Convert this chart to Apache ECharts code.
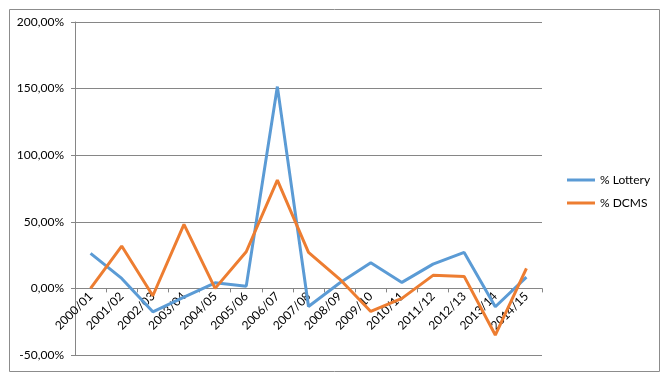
<!DOCTYPE html>
<html>
<head>
<meta charset="utf-8">
<script src="https://cdn.jsdelivr.net/npm/echarts@6/dist/echarts.min.js"></script>
<style>
html,body{margin:0;padding:0;background:#fff;}
#chart{width:664px;height:378px;}
</style>
</head>
<body>
<div id="chart"></div>
<script>
var categories = ['2000/01','2001/02','2002/03','2003/04','2004/05','2005/06','2006/07','2007/08','2008/09','2009/10','2010/11','2011/12','2012/13','2013/14','2014/15'];
var lottery = [26.3, 7.5, -17.6, -6.5, 4.2, 1.7, 151.5, -13.6, 4.0, 19.2, 4.5, 18.2, 27.0, -13.8, 8.5];
var dcms = [0.0, 31.8, -5.5, 48.0, 0.0, 27.5, 81.3, 27.0, 7.0, -17.3, -7.5, 9.8, 9.0, -35.0, 15.0];
var seriesNames = ['% Lottery', '% DCMS'];
var yMin = -50, yMax = 200, yStep = 50;

var W = 664, H = 378;
var gridTop = 22, gridBottom = 23;
var plotH = H - gridTop - gridBottom;
var zeroOffset = -plotH * (0 - yMin) / (yMax - yMin);

var chart = echarts.init(document.getElementById('chart'), null, {renderer: 'canvas'});
var font = 'Lato, "Open Sans", sans-serif';
chart.setOption({
  animation: false,
  backgroundColor: '#ffffff',
  graphic: [{
    type: 'rect', left: 7, top: 7, shape: {width: 650, height: 362},
    style: {fill: 'none', stroke: '#8c8c8c', lineWidth: 1}, silent: true
  }],
  grid: {left: 75, right: 122, top: gridTop, bottom: gridBottom, containLabel: false, outerBoundsMode: 'none'},
  legend: {
    orient: 'vertical', left: 562, top: 169,
    itemWidth: 28, itemHeight: 3, itemGap: 11, itemTextGap: 2,
    icon: 'rect',
    textStyle: {fontFamily: font, fontSize: 12, color: '#000'},
    data: seriesNames
  },
  xAxis: {
    type: 'category', data: categories, boundaryGap: true,
    position: 'bottom', offset: zeroOffset,
    axisLine: {onZero: false, lineStyle: {color: '#868686', width: 1}},
    axisTick: {show: true, length: 4, lineStyle: {color: '#868686'}},
    axisLabel: {rotate: 45, fontFamily: font, fontSize: 12, color: '#000', margin: 6, interval: 0},
    splitLine: {show: false}
  },
  yAxis: {
    type: 'value', min: yMin, max: yMax, interval: yStep,
    axisLine: {show: true, lineStyle: {color: '#868686', width: 1}},
    axisTick: {show: true, length: 4, lineStyle: {color: '#868686'}},
    axisLabel: {fontFamily: font, fontSize: 12, color: '#000', margin: 11,
      formatter: function (v) { return v.toFixed(2).replace('.', ',') + '%'; }},
    splitLine: {show: true, lineStyle: {color: '#868686', width: 1}}
  },
  series: [
    {name: seriesNames[0], type: 'line', data: lottery, showSymbol: false, symbol: 'none',
     lineStyle: {color: '#5B9BD5', width: 3}, itemStyle: {color: '#5B9BD5'}, z: 3},
    {name: seriesNames[1], type: 'line', data: dcms, showSymbol: false, symbol: 'none',
     lineStyle: {color: '#ED7D31', width: 3}, itemStyle: {color: '#ED7D31'}, z: 4}
  ]
});
</script>
</body>
</html>
